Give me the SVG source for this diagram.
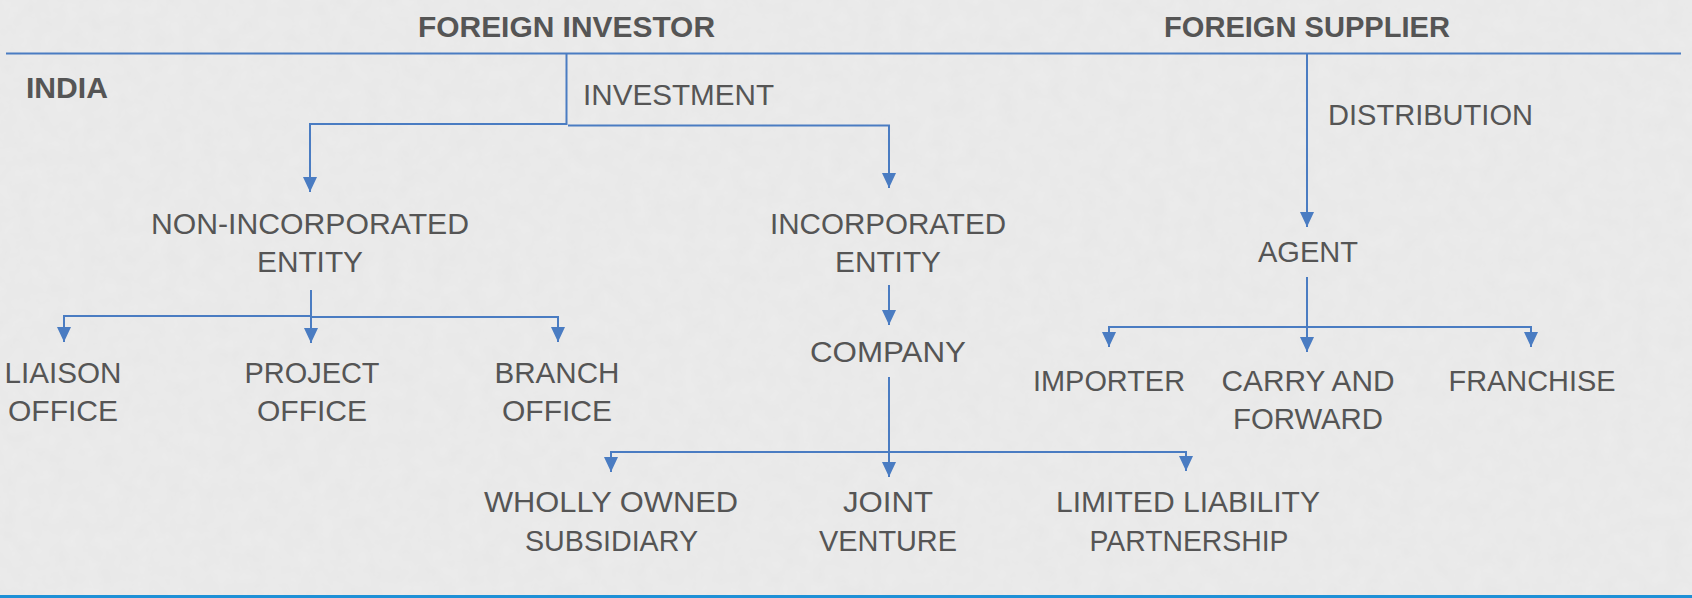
<svg xmlns="http://www.w3.org/2000/svg" width="1692" height="598" viewBox="0 0 1692 598">
<style>
.bg{fill:#ececec}
.hd{font-family:"Liberation Sans",Arial,sans-serif;font-weight:bold;font-size:29px;fill:#555555}
.lb{font-family:"Liberation Sans",Arial,sans-serif;font-size:30px;fill:#555555}
.c{text-anchor:middle}
.ln{fill:none;stroke:#4a7cc2;stroke-width:2;stroke-linecap:butt;stroke-linejoin:miter}
</style>
<defs>
<marker id="ah" markerUnits="userSpaceOnUse" markerWidth="16" markerHeight="16" viewBox="0 -8 16 16" refX="15" refY="0" orient="auto">
<path d="M0,-7 L15,0 L0,7 z" fill="#4a7cc2"/>
</marker>
<filter id="paper" x="0" y="0" width="100%" height="100%">
<feTurbulence type="fractalNoise" baseFrequency="0.06" numOctaves="3" seed="4" result="n"/>
<feColorMatrix in="n" type="matrix" values="0 0 0 0 0.55  0 0 0 0 0.55  0 0 0 0 0.55  0 0 0 0.12 0"/>
</filter>
</defs>
<rect class="bg" x="0" y="0" width="1692" height="598"/>
<rect x="0" y="0" width="1692" height="598" filter="url(#paper)"/>
<rect x="0" y="595" width="1692" height="3" fill="#1e90d6"/>

<g id="connectors">
<path class="ln" d="M6,53.5 H1681"/>
<path class="ln" d="M566.5,54 V124 H310 V192" marker-end="url(#ah)"/>
<path class="ln" d="M568,125.5 H889 V188" marker-end="url(#ah)"/>
<path class="ln" d="M311,290 V343" marker-end="url(#ah)"/>
<path class="ln" d="M311,316 H64 V342" marker-end="url(#ah)"/>
<path class="ln" d="M311,317 H558 V342" marker-end="url(#ah)"/>
<path class="ln" d="M889,285 V325" marker-end="url(#ah)"/>
<path class="ln" d="M889,377 V477" marker-end="url(#ah)"/>
<path class="ln" d="M889,452 H611 V472" marker-end="url(#ah)"/>
<path class="ln" d="M889,452 H1186 V471" marker-end="url(#ah)"/>
<path class="ln" d="M1307,54 V227" marker-end="url(#ah)"/>
<path class="ln" d="M1307,277 V352" marker-end="url(#ah)"/>
<path class="ln" d="M1307,327 H1109 V347" marker-end="url(#ah)"/>
<path class="ln" d="M1307,327 H1531 V347" marker-end="url(#ah)"/>
</g>

<g id="foreign-investor"><text class="hd c" x="566.5" y="37" textLength="297" lengthAdjust="spacingAndGlyphs">FOREIGN INVESTOR</text></g>
<g id="foreign-supplier"><text class="hd c" x="1307" y="37" textLength="286" lengthAdjust="spacingAndGlyphs">FOREIGN SUPPLIER</text></g>
<g id="india"><text class="hd" x="26" y="97.5" textLength="82" lengthAdjust="spacingAndGlyphs">INDIA</text></g>
<g id="investment"><text class="lb" x="583" y="105" textLength="191" lengthAdjust="spacingAndGlyphs">INVESTMENT</text></g>
<g id="distribution"><text class="lb" x="1328" y="125" textLength="205" lengthAdjust="spacingAndGlyphs">DISTRIBUTION</text></g>

<g id="non-incorporated">
<text class="lb c" x="310" y="234" textLength="318" lengthAdjust="spacingAndGlyphs">NON-INCORPORATED</text>
<text class="lb c" x="310" y="272" textLength="106" lengthAdjust="spacingAndGlyphs">ENTITY</text>
</g>
<g id="incorporated">
<text class="lb c" x="888" y="234" textLength="236" lengthAdjust="spacingAndGlyphs">INCORPORATED</text>
<text class="lb c" x="888" y="272" textLength="106" lengthAdjust="spacingAndGlyphs">ENTITY</text>
</g>
<g id="agent"><text class="lb c" x="1308" y="262" textLength="100" lengthAdjust="spacingAndGlyphs">AGENT</text></g>
<g id="company"><text class="lb c" x="888" y="362" textLength="156" lengthAdjust="spacingAndGlyphs">COMPANY</text></g>

<g id="liaison">
<text class="lb c" x="63" y="383" textLength="117" lengthAdjust="spacingAndGlyphs">LIAISON</text>
<text class="lb c" x="63" y="421" textLength="110" lengthAdjust="spacingAndGlyphs">OFFICE</text>
</g>
<g id="project">
<text class="lb c" x="312" y="383" textLength="135" lengthAdjust="spacingAndGlyphs">PROJECT</text>
<text class="lb c" x="312" y="421" textLength="110" lengthAdjust="spacingAndGlyphs">OFFICE</text>
</g>
<g id="branch">
<text class="lb c" x="557" y="383" textLength="125" lengthAdjust="spacingAndGlyphs">BRANCH</text>
<text class="lb c" x="557" y="421" textLength="110" lengthAdjust="spacingAndGlyphs">OFFICE</text>
</g>

<g id="importer"><text class="lb c" x="1109" y="391" textLength="152" lengthAdjust="spacingAndGlyphs">IMPORTER</text></g>
<g id="carry-forward">
<text class="lb c" x="1308" y="391" textLength="173" lengthAdjust="spacingAndGlyphs">CARRY AND</text>
<text class="lb c" x="1308" y="429" textLength="150" lengthAdjust="spacingAndGlyphs">FORWARD</text>
</g>
<g id="franchise"><text class="lb c" x="1532" y="391" textLength="167" lengthAdjust="spacingAndGlyphs">FRANCHISE</text></g>

<g id="wholly-owned">
<text class="lb c" x="611" y="512" textLength="254" lengthAdjust="spacingAndGlyphs">WHOLLY OWNED</text>
<text class="lb c" x="611.5" y="551" textLength="173" lengthAdjust="spacingAndGlyphs">SUBSIDIARY</text>
</g>
<g id="joint-venture">
<text class="lb c" x="888" y="512" textLength="90" lengthAdjust="spacingAndGlyphs">JOINT</text>
<text class="lb c" x="888" y="551" textLength="138" lengthAdjust="spacingAndGlyphs">VENTURE</text>
</g>
<g id="llp">
<text class="lb c" x="1188" y="512" textLength="264" lengthAdjust="spacingAndGlyphs">LIMITED LIABILITY</text>
<text class="lb c" x="1189" y="551" textLength="199" lengthAdjust="spacingAndGlyphs">PARTNERSHIP</text>
</g>
</svg>
